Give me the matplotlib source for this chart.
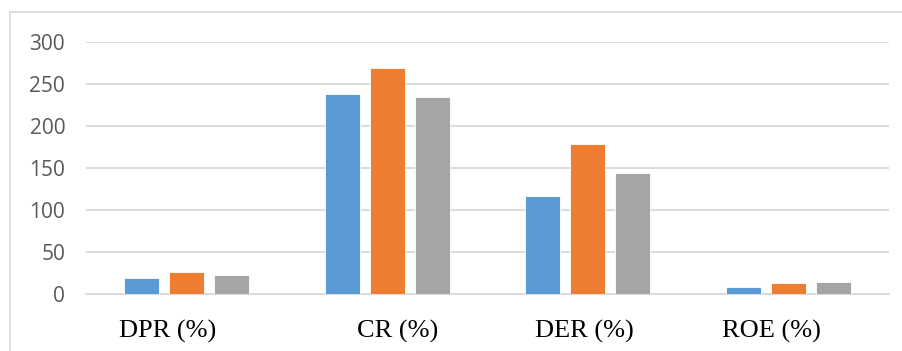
import numpy as np
import matplotlib.pyplot as plt
import matplotlib.transforms as mtransforms
from matplotlib.lines import Line2D

categories = ['DPR (%)', 'CR (%)', 'DER (%)', 'ROE (%)']
series_1 = [19.5, 238.5, 117, 8]
series_2 = [26, 268.5, 178, 12.5]
series_3 = [22.5, 234, 143.5, 14]

colors = ['#5B9BD5', '#ED7D31', '#A5A5A5']
# horizontal nudge of each category label, in pixels
label_shift = [-19, 11, -3, -17]

fig = plt.figure(figsize=(9.02, 3.51), dpi=100)
ax = fig.add_axes([0.0953, 0.1624, 0.8903, 0.7179])

x = np.arange(len(categories))
width = 0.174
step = 0.224
for i, (vals, c) in enumerate(zip([series_1, series_2, series_3], colors)):
    ax.bar(x + (i - 1) * step, vals, width, color=c, edgecolor='white',
           linewidth=0.6, zorder=3)

ax.set_xlim(-0.5, len(categories) - 0.5)
ax.set_ylim(0, 300)
ax.set_yticks(range(0, 301, 50))
ax.yaxis.grid(True, color='#d9d9d9', linewidth=1.3, zorder=0)
ax.set_axisbelow(True)

for side in ['top', 'right', 'left']:
    ax.spines[side].set_visible(False)
ax.spines['bottom'].set_color('#d9d9d9')
ax.spines['bottom'].set_linewidth(1.3)

ax.tick_params(axis='y', length=0, pad=15, labelsize=15, labelcolor='#595959')
ax.tick_params(axis='x', length=0, pad=19)
ax.set_xticks(x)
ax.set_xticklabels(categories, fontfamily='Liberation Serif', fontsize=19,
                   color='black')
for lbl, dx in zip(ax.get_xticklabels(), label_shift):
    lbl.set_transform(lbl.get_transform() +
                      mtransforms.ScaledTranslation(dx / 100, 0, fig.dpi_scale_trans))
for lbl in ax.get_yticklabels():
    lbl.set_fontfamily('Open Sans')

# chart frame: top and left edges
fig.add_artist(Line2D([9.5 / 902, 1.0], [1 - 12 / 351, 1 - 12 / 351],
                      color='#d9d9d9', linewidth=1.2, transform=fig.transFigure))
fig.add_artist(Line2D([9.5 / 902, 9.5 / 902], [0.0, 1 - 12 / 351],
                      color='#d9d9d9', linewidth=1.2, transform=fig.transFigure))

fig.savefig('out.png', dpi=100)
